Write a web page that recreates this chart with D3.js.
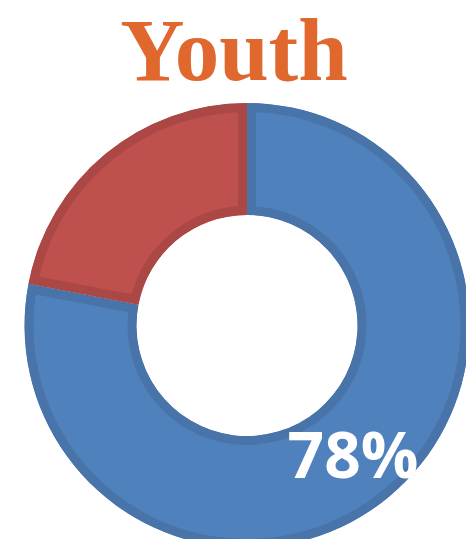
<!DOCTYPE html>
<html>
<head>
<meta charset="utf-8">
<script src="https://cdn.jsdelivr.net/npm/d3@7"></script>
<style>
  html, body { margin: 0; padding: 0; background: #fff; overflow: hidden; }
  svg { display: block; }
</style>
</head>
<body>
<div id="chart"></div>
<script>
// Share of youth, two segments
const categories = ["Yes", "No"];
const values = [78, 22];
const fills = ["#4f81bd", "#be504d"];
const borders = ["#4874a9", "#ab4744"];
const title = "Youth";

const width = 466, height = 539;
const cx = 247, cy = 325.5;
const outerR = 222.5, innerR = 110.5;
const band = 9;

const svg = d3.select("#chart").append("svg")
  .attr("width", width).attr("height", height);

svg.append("text")
  .attr("x", 234).attr("y", 80)
  .attr("text-anchor", "middle")
  .attr("font-family", "'Liberation Serif', 'DejaVu Serif', serif")
  .attr("font-weight", "bold")
  .attr("font-size", 89)
  .attr("fill", "#e0682e")
  .text(title);

const pie = d3.pie().sort(null).value(d => d.value);
const arcs = pie(categories.map((c, i) => ({ cat: c, value: values[i], i })));
const arc = d3.arc().innerRadius(innerR).outerRadius(outerR);

const g = svg.append("g").attr("transform", `translate(${cx},${cy})`);

// Each segment: fill plus an inner darker border, clipped to the segment shape
arcs.forEach((a, k) => {
  const id = "seg-clip-" + k;
  g.append("clipPath").attr("id", id).append("path").attr("d", arc(a));
  g.append("path")
    .attr("d", arc(a))
    .attr("fill", fills[a.data.i])
    .attr("stroke", borders[a.data.i])
    .attr("stroke-width", band * 2)
    .attr("clip-path", `url(#${id})`);
});

// Value label for the main segment
svg.append("text")
  .attr("x", 353).attr("y", 478)
  .attr("text-anchor", "middle")
  .attr("font-family", "'Open Sans', sans-serif")
  .attr("font-weight", "bold")
  .attr("font-size", 64)
  .attr("fill", "#ffffff")
  .text(values[0] + "%");
</script>
</body>
</html>
